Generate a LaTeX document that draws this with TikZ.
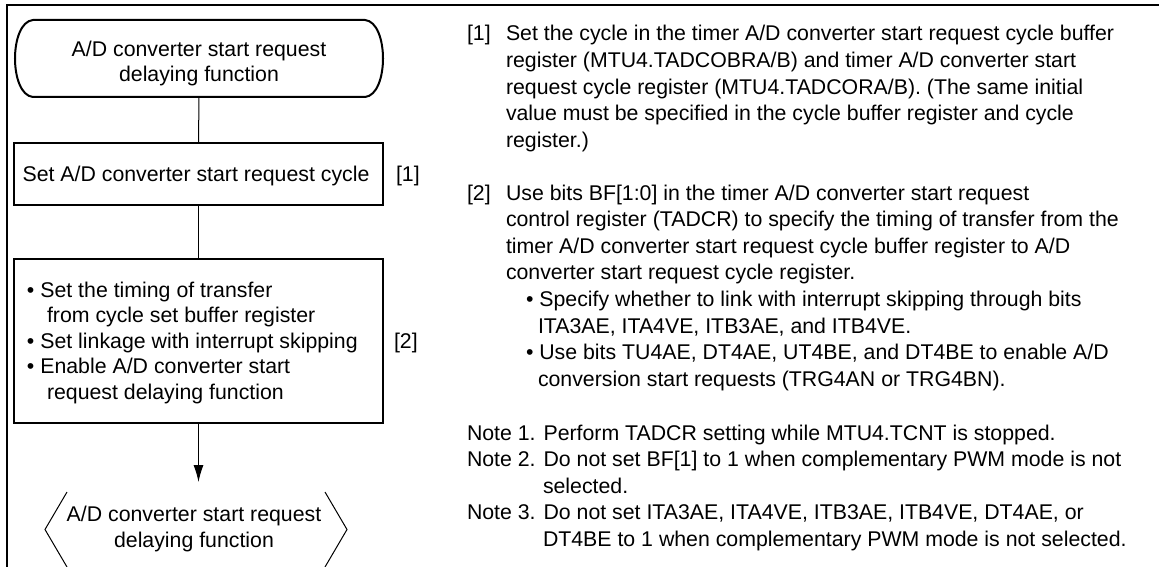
\documentclass[tikz,border=0pt]{standalone}
\usepackage{fontspec}
\setmainfont{Liberation Sans}
\usetikzlibrary{arrows.meta}
\newcommand\dfs{\fontsize{21.3}{25.5}\selectfont}
\begin{document}
\begin{tikzpicture}[x=1pt,y=-1pt,
  every node/.style={inner sep=0pt,outer sep=0pt,font=\dfs},
  frame/.style={line width=2pt},
  thickbox/.style={draw,line width=2.2pt,minimum width=369pt},
  ghost/.style={draw=none},
  conn/.style={line width=1pt},
  arr/.style={line width=1pt,-{Latex[length=17pt,width=10pt]}},
  lt/.style={anchor=base west},
  ct/.style={anchor=base}]
\useasboundingbox (0,0) rectangle (1159,567);
% frame
\draw[frame] (7,567) -- (7,5) -- (1159,5);
% start terminal
\node[ghost,minimum width=368pt,minimum height=77pt] (start) at (199,58.5) {};
\draw[line width=2pt] (33,20) -- (365,20) .. controls (377,21) and (383,40) .. (383,58.5)
  .. controls (383,77) and (377,96) .. (365,97) -- (33,97)
  .. controls (21,96) and (15,77) .. (15,58.5) .. controls (15,40) and (21,21) .. (33,20) -- cycle;
\node[ct] (st1) at (199,57) {A/D converter start request};
\node[ct] (st2) at (199,81.5) {delaying function};
% box 1
\node[thickbox,minimum height=62pt] (b1) at (198.5,174) {};
\node[ct] (b1t) at (196,181.5) {Set A/D converter start request cycle};
\node[lt] (l1) at (396,181.5) {[1]};
% box 2
\node[thickbox,minimum height=164pt] (b2) at (198.5,341) {};
\node[lt] (b2a) at (27,297) {• Set the timing of transfer};
\node[lt] (b2b) at (47,322.5) {from cycle set buffer register};
\node[lt] (b2c) at (27,348) {• Set linkage with interrupt skipping};
\node[lt] (b2d) at (27,373.5) {• Enable A/D converter start};
\node[lt] (b2e) at (47,399) {request delaying function};
\node[lt] (l2) at (394,348) {[2]};
% end terminal
\node[ghost,minimum width=302pt,minimum height=75pt] (endt) at (196,529.5) {};
\draw[conn] (67,492) -- (45,529.5) -- (67,567);
\draw[conn] (325,492) -- (347,529.5) -- (325,567);
\node[ct] (et1) at (194,521) {A/D converter start request};
\node[ct] (et2) at (194,547) {delaying function};
% connectors
\draw[conn] (start.south) -- (b1.north);
\draw[conn] (b1.south) -- (b2.north);
\draw[arr,shorten >=10pt] (b2.south) -- (b2.south |- endt.north);
% right-hand text
\node[lt] (r1n) at (467,41) {[1]};
\node[lt] (r1a) at (506,41) {Set the cycle in the timer A/D converter start request cycle buffer};
\node[lt] (r1b) at (506,67.6) {register (MTU4.TADCOBRA/B) and timer A/D converter start};
\node[lt] (r1c) at (506,94.2) {request cycle register (MTU4.TADCORA/B). (The same initial};
\node[lt] (r1d) at (506,120.8) {value must be specified in the cycle buffer register and cycle};
\node[lt] (r1e) at (506,147.4) {register.)};
\node[lt] (r2n) at (467,200) {[2]};
\node[lt] (r2a) at (506,200) {Use bits BF[1:0] in the timer A/D converter start request};
\node[lt] (r2b) at (506,226.6) {control register (TADCR) to specify the timing of transfer from the};
\node[lt] (r2c) at (506,253.2) {timer A/D converter start request cycle buffer register to A/D};
\node[lt] (r2d) at (506,279.8) {converter start request cycle register.};
\node[lt] (r2e) at (526,306.4) {• Specify whether to link with interrupt skipping through bits};
\node[lt] (r2f) at (538,333) {ITA3AE, ITA4VE, ITB3AE, and ITB4VE.};
\node[lt] (r2g) at (526,359.6) {• Use bits TU4AE, DT4AE, UT4BE, and DT4BE to enable A/D};
\node[lt] (r2h) at (538,386.2) {conversion start requests (TRG4AN or TRG4BN).};
\node[lt] (n1) at (467,440) {Note 1. Perform TADCR setting while MTU4.TCNT is stopped.};
\node[lt] (n2) at (467,466.6) {Note 2. Do not set BF[1] to 1 when complementary PWM mode is not};
\node[lt] (n2b) at (543,493.2) {selected.};
\node[lt] (n3) at (467,519.8) {Note 3. Do not set ITA3AE, ITA4VE, ITB3AE, ITB4VE, DT4AE, or};
\node[lt] (n3b) at (543,546.4) {DT4BE to 1 when complementary PWM mode is not selected.};
\end{tikzpicture}
\end{document}
